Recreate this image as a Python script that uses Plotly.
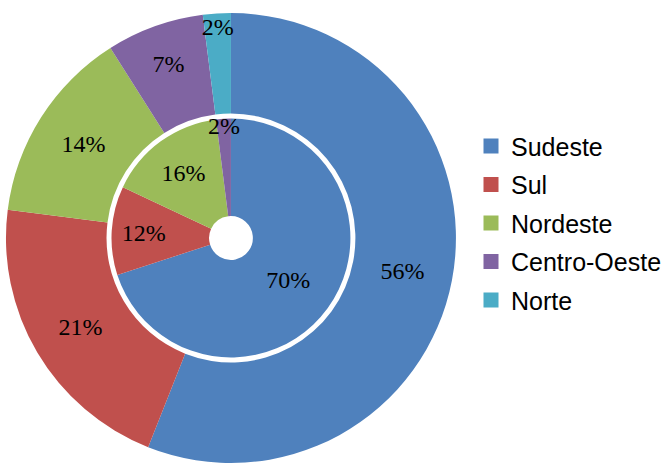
import plotly.graph_objects as go

# Regional shares (percent) for the two rings
regions = ["Sudeste", "Sul", "Nordeste", "Centro-Oeste", "Norte"]
outer_values = [56, 21, 14, 7, 2]
inner_values = [70, 12, 16, 2, 0]
colors = ["#4F81BD", "#C0504D", "#9BBB59", "#8064A2", "#4BACC6"]

W, H = 667, 465
cx, cy = 232, 238          # ring centre in pixels (from top-left)
r_outer, r_inner = 226, 120


def domain(r):
    return dict(
        x=[(cx - r) / W, (cx + r) / W],
        y=[(H - cy - r) / H, (H - cy + r) / H],
    )


def labels_for(values):
    return ["" if v == 0 else f"{v}%" for v in values]


label_font = dict(family="Liberation Serif", size=24, color="black")

fig = go.Figure()
fig.add_trace(go.Pie(
    labels=regions, values=outer_values, text=labels_for(outer_values),
    textinfo="text", textposition="inside", insidetextorientation="horizontal",
    sort=False, direction="clockwise", rotation=0, hole=125 / r_outer,
    marker=dict(colors=colors, line=dict(width=0)),
    textfont=label_font, domain=domain(r_outer), hoverinfo="label+value",
    showlegend=False,
))
fig.add_trace(go.Pie(
    labels=regions, values=inner_values, text=labels_for(inner_values),
    textinfo="text", textposition="inside", insidetextorientation="horizontal",
    sort=False, direction="clockwise", rotation=0, hole=22 / r_inner,
    marker=dict(colors=colors, line=dict(width=0)),
    textfont=label_font, domain=domain(r_inner), hoverinfo="label+value",
    showlegend=False,
))

# Legend entries, one group per region so the rows can be spaced out
for name, color in zip(regions, colors):
    fig.add_trace(go.Scatter(
        x=[None], y=[None], mode="markers", name=name, legendgroup=name,
        marker=dict(symbol="square", size=15, color=color),
        hoverinfo="skip",
    ))

fig.update_layout(
    width=W, height=H,
    margin=dict(l=0, r=0, t=0, b=0),
    paper_bgcolor="white",
    plot_bgcolor="white",
    xaxis=dict(visible=False),
    yaxis=dict(visible=False),
    uniformtext=dict(minsize=24, mode="show"),
    legend=dict(
        x=0.7095, y=0.52, xanchor="left", yanchor="middle",
        font=dict(family="Liberation Sans", size=25, color="black"),
        traceorder="grouped", tracegroupgap=3,
    ),
)

fig.write_html("out.html")
